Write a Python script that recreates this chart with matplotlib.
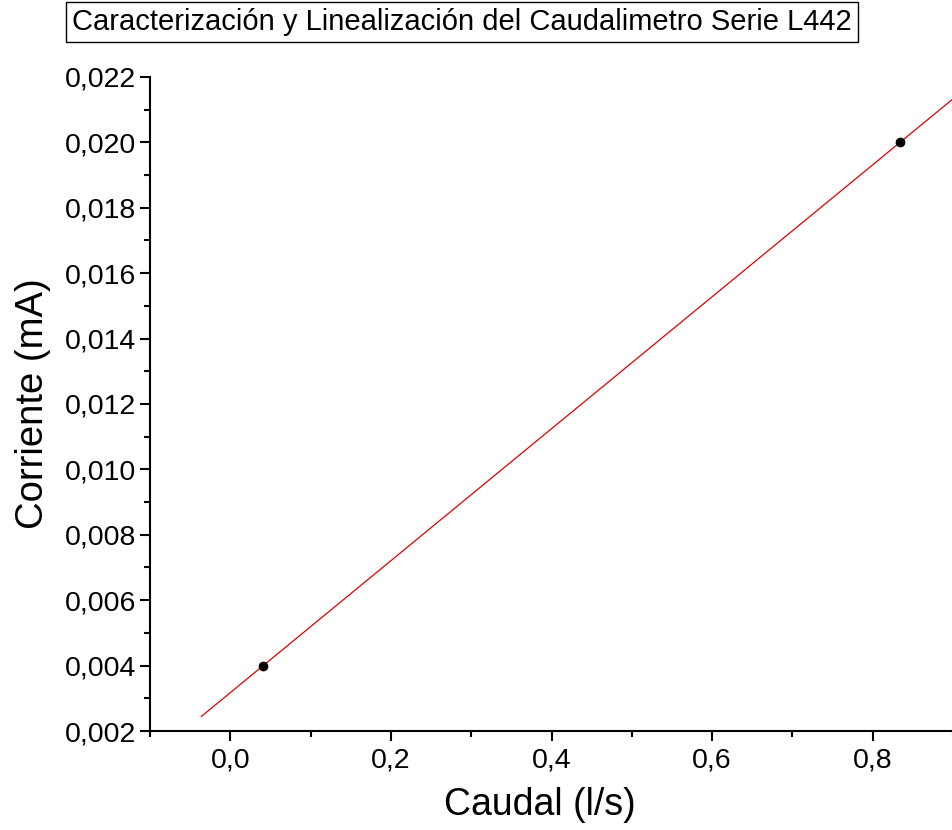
import matplotlib
matplotlib.use('Agg')
import matplotlib.pyplot as plt
from matplotlib.ticker import MultipleLocator, FuncFormatter
import numpy as np

plt.rcParams['font.family'] = ['Liberation Sans', 'DejaVu Sans']

# data
caudal = [0.041, 0.834]          # l/s
corriente = [0.0040, 0.0200]     # mA
fit_range = [-0.036, 0.93]       # extent of the linear fit line

x_ticks = [0.0, 0.2, 0.4, 0.6, 0.8]
y_ticks = [0.002, 0.004, 0.006, 0.008, 0.010, 0.012, 0.014, 0.016, 0.018, 0.020, 0.022]

title = "Caracterización y Linealización del Caudalimetro Serie L442"

fig = plt.figure(figsize=(9.53, 8.3), dpi=100)
ax = fig.add_axes([150 / 953, 1 - 731 / 830, 1 - 150 / 953, (731 - 77) / 830])

# linear fit
slope, intercept = np.polyfit(caudal, corriente, 1)
fx = np.array(fit_range)
ax.plot(fx, slope * fx + intercept, color='#e00000', lw=0.9, clip_on=False, zorder=2)
ax.plot(caudal, corriente, 'o', color='black', ms=6, zorder=3)

ax.set_xlim(-0.1, 0.9)
ax.set_ylim(0.002, 0.022)
ax.set_xticks(x_ticks)
ax.set_yticks(y_ticks)
ax.xaxis.set_minor_locator(MultipleLocator(0.1))
ax.yaxis.set_minor_locator(MultipleLocator(0.001))
ax.xaxis.set_major_formatter(FuncFormatter(lambda v, p: f"{v:.1f}".replace('.', ',')))
ax.yaxis.set_major_formatter(FuncFormatter(lambda v, p: f"{v:.3f}".replace('.', ',')))

for s in ['top', 'right']:
    ax.spines[s].set_visible(False)
for s in ['left', 'bottom']:
    ax.spines[s].set_linewidth(1.5)

ax.tick_params(which='major', direction='out', length=7, width=1.5, labelsize=20.5, pad=5)
ax.tick_params(which='minor', direction='out', length=4, width=1.5)
ax.tick_params(axis='y', which='major', pad=3)

ax.set_xlabel("Caudal (l/s)", fontsize=27)
ax.set_ylabel("Corriente (mA)", fontsize=27.5, labelpad=10)
ax.xaxis.set_label_coords((540 - 150) / 803, -0.086)

fig.text(462 / 953, 1 - 22 / 830, title, ha='center', va='center', fontsize=21,
         bbox=dict(boxstyle='square,pad=0.2', facecolor='white', edgecolor='black', lw=1))

fig.savefig('out.png', dpi=100, facecolor='white')
